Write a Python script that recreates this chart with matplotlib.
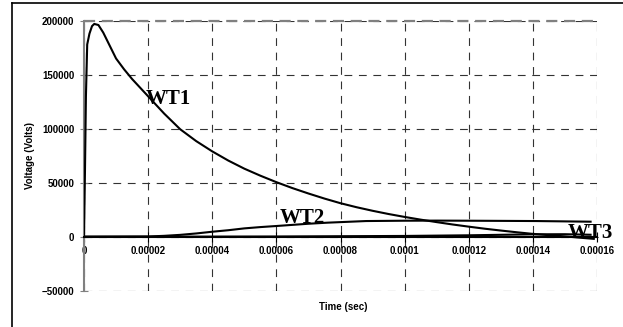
import matplotlib
matplotlib.use("Agg")
import matplotlib.pyplot as plt
from matplotlib.lines import Line2D

# curve data (time in s, voltage in V)
wt1_t = [0, 0.3e-6, 0.6e-6, 1.0e-6, 1.7e-6, 2.5e-6, 3.2e-6, 4.5e-6, 6e-6, 8e-6,
         1.0e-5, 1.25e-5, 1.5e-5, 1.75e-5, 2.0e-5, 2.5e-5, 3.0e-5, 3.5e-5, 4.0e-5,
         4.5e-5, 5.0e-5, 5.5e-5, 6.0e-5, 6.5e-5, 7.0e-5, 7.5e-5, 8.0e-5, 8.5e-5,
         9.0e-5, 9.5e-5, 1.0e-4, 1.05e-4, 1.1e-4, 1.15e-4, 1.2e-4, 1.25e-4,
         1.3e-4, 1.35e-4, 1.4e-4, 1.45e-4, 1.5e-4, 1.55e-4, 1.59e-4]
wt1_v = [0, 60000, 130000, 178000, 188000, 195000, 197000, 196000, 189000, 177000,
         165000, 155000, 146000, 138000, 130000, 114000, 99500, 88500, 79000,
         70500, 63000, 56500, 50500, 45000, 40000, 35300, 31000, 27300,
         24000, 21000, 18300, 15800, 13500, 11300, 9300, 7400,
         5700, 4100, 2600, 1400, 300, -1000, -2000]

wt2_t = [0, 2.0e-5, 2.5e-5, 3.0e-5, 3.5e-5, 4.0e-5, 4.5e-5, 5.0e-5, 5.5e-5, 6.0e-5,
         7.0e-5, 7.6e-5, 8.8e-5, 1.0e-4, 1.1e-4, 1.2e-4, 1.41e-4, 1.58e-4]
wt2_v = [0, 200, 800, 1700, 3000, 4600, 6000, 7700, 8900, 9900,
         12000, 13000, 14500, 14800, 14900, 14800, 14500, 13900]

wt3_t = [0, 2.0e-5, 6.0e-5, 1.0e-4, 1.2e-4, 1.4e-4, 1.5e-4, 1.58e-4]
wt3_v = [0, 0, 200, 700, 1300, 2200, 2300, 1800]

x_ticks = [0, 0.00002, 0.00004, 0.00006, 0.00008, 0.0001, 0.00012, 0.00014, 0.00016]
x_labels = ["0", "0.00002", "0.00004", "0.00006", "0.00008", "0.0001",
            "0.00012", "0.00014", "0.00016"]
y_ticks = [-50000, 0, 50000, 100000, 150000, 200000]

fig = plt.figure(figsize=(6.23, 3.27), dpi=100)
ax = fig.add_axes([84 / 623, 1 - 290.7 / 327, (597 - 84) / 623, (290.7 - 20.7) / 327])

for t, v in [(wt1_t, wt1_v), (wt2_t, wt2_v), (wt3_t, wt3_v)]:
    ax.plot(t, v, color="black", lw=1.5, zorder=3)

ax.set_xlim(0, 0.00016)
ax.set_ylim(-50000, 200000)
ax.set_xticks(x_ticks)
ax.set_xticklabels(x_labels)
ax.set_yticks(y_ticks)

ax.grid(True, color="#333333", lw=0.8, ls=(0, (7, 6)))
ax.axhline(200000, color="#808080", lw=1.6, ls=(0, (5, 3)), clip_on=False, zorder=2)

for s in ["top", "right"]:
    ax.spines[s].set_visible(False)
ax.spines["left"].set_color("#808080")
ax.spines["left"].set_linewidth(1.5)
ax.spines["bottom"].set_position(("data", 0))
ax.spines["bottom"].set_linewidth(1.5)

ax.tick_params(axis="x", direction="inout", length=7, width=0.8, pad=3)
ax.tick_params(axis="y", direction="inout", length=6, width=0.8, pad=4,
               color="#808080")
for lab in ax.get_xticklabels() + ax.get_yticklabels():
    lab.set_fontfamily("Liberation Sans")
    lab.set_fontweight("bold")
    lab.set_fontsize(7)

fig.text(30 / 623, 1 - 155.7 / 327, "Voltage (Volts)", rotation=90, ha="center",
         va="center", family="Liberation Sans", weight="bold", fontsize=7)
fig.text(343 / 623, 1 - 307 / 327, "Time (sec)", ha="center", va="center",
         family="Liberation Sans", weight="bold", fontsize=7)

lbl = dict(family="Liberation Serif", weight="bold", fontsize=15, ha="left",
           va="baseline", zorder=4)
ax.text(1.94e-5, 122900, "WT1", **lbl)
ax.text(6.11e-5, 12700, "WT2", **lbl)
ax.text(1.51e-4, -1500, "WT3", **lbl)

# outer chart frame (left and top edges visible)
fig.add_artist(Line2D([12 / 623, 12 / 623], [0, 1 - 3 / 327], color="black", lw=1.2))
fig.add_artist(Line2D([12 / 623, 1], [1 - 3 / 327, 1 - 3 / 327], color="black", lw=1.2))

fig.savefig("out.png", dpi=100)
